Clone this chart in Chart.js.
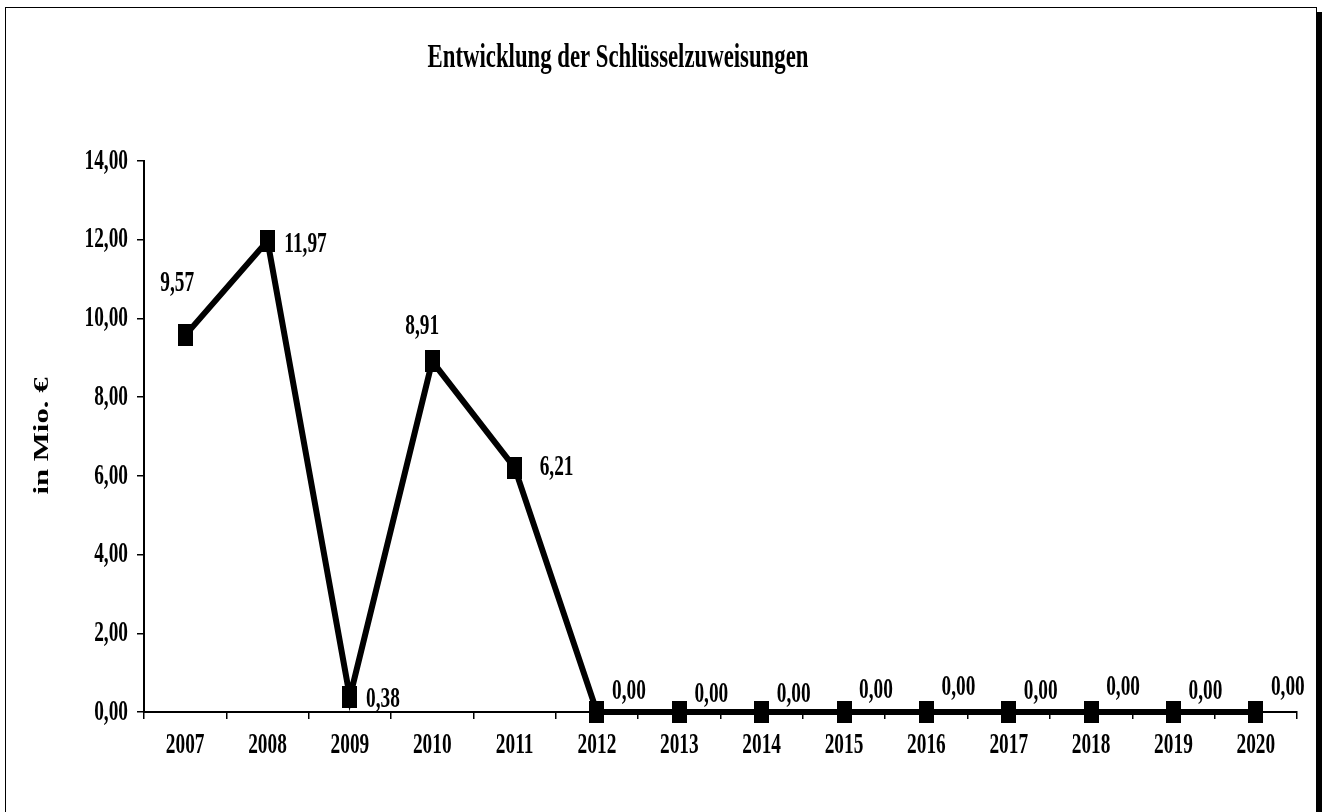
<!DOCTYPE html>
<html>
<head>
<meta charset="utf-8">
<script src="https://cdn.jsdelivr.net/npm/chart.js@4.4.1/dist/chart.umd.min.js"></script>
<style>
  html, body { margin: 0; padding: 0; background: #fff; }
  #frame { position: absolute; left: 5px; top: 7px; width: 1310px; height: 830px;
           border: 1.5px solid #000; box-shadow: 5px 5px 0 #000; background: #fff; }
  #chart { position: absolute; left: 0; top: 0; }
</style>
</head>
<body>
<div id="frame"></div>
<canvas id="chart" width="1328" height="812"></canvas>
<script>
// Daten
var years = ['2007', '2008', '2009', '2010', '2011', '2012', '2013', '2014', '2015', '2016', '2017', '2018', '2019', '2020'];
var zuweisungen = [9.57, 11.97, 0.38, 8.91, 6.21, 0.00, 0.00, 0.00, 0.00, 0.00, 0.00, 0.00, 0.00, 0.00];
var yTicks = [0, 2, 4, 6, 8, 10, 12, 14];

var titleText = 'Entwicklung der Schlüsselzuweisungen';
var yTitle = 'in Mio. €';

// Versatz der Wertbeschriftungen relativ zum Punkt
var labelOffsets = [
    [-8, -52], [38, 3], [33, 2], [-10, -35], [42, 0],
    [32, -21], [32, -18], [32, -18], [32, -22], [32, -25],
    [32, -21], [32, -25], [32, -21], [32, -25]
];

var FONT = 'bold 30px "Liberation Serif", "Times New Roman", serif';
var SQUEEZE = 0.645;

function fmt(v) {
    return v.toFixed(2).replace('.', ',');
}

function drawText(ctx, text, x, y, font, sx, align, rot) {
    ctx.save();
    ctx.font = font;
    ctx.fillStyle = '#000';
    ctx.translate(x, y);
    if (rot) ctx.rotate(rot);
    ctx.scale(sx, 1);
    ctx.textAlign = align;
    ctx.textBaseline = 'middle';
    ctx.fillText(text, 0, 0);
    ctx.restore();
}

// Marker: schwarzes Rechteck
var marker = document.createElement('canvas');
marker.width = 15;
marker.height = 22;
var mctx = marker.getContext('2d');
mctx.fillStyle = '#000';
mctx.fillRect(0, 0, 15, 22);

var textPlugin = {
    id: 'textPlugin',
    afterDraw: function (chart) {
        var ctx = chart.ctx;
        var xs = chart.scales.x;
        var ys = chart.scales.y;

        drawText(ctx, titleText, 618, 58, 'bold 33px "Liberation Serif", serif', 0.69, 'center');
        drawText(ctx, yTitle, 42, 436, 'bold 22px "Liberation Serif", serif', 1.4, 'center', -Math.PI / 2);

        yTicks.forEach(function (v) {
            drawText(ctx, fmt(v), ys.right - 16, ys.getPixelForValue(v), FONT, SQUEEZE, 'right');
        });

        years.forEach(function (y, i) {
            drawText(ctx, y, xs.getPixelForValue(i), xs.top + 33, FONT, SQUEEZE, 'center');
        });

        var meta = chart.getDatasetMeta(0);
        meta.data.forEach(function (pt, i) {
            var off = labelOffsets[i];
            drawText(ctx, fmt(zuweisungen[i]), pt.x + off[0], pt.y + off[1], FONT, SQUEEZE, 'center');
        });
    }
};

var ctx = document.getElementById('chart').getContext('2d');
var chart = new Chart(ctx, {
    type: 'line',
    data: {
        labels: years,
        datasets: [{
            data: zuweisungen,
            borderColor: '#000',
            borderWidth: 6,
            tension: 0,
            pointStyle: marker,
            pointRadius: 8,
            pointBackgroundColor: '#000',
            clip: false
        }]
    },
    options: {
        responsive: false,
        animation: false,
        layout: { padding: { left: 124, right: 31, top: 161, bottom: 80 } },
        plugins: {
            legend: { display: false },
            title: { display: false },
            tooltip: { enabled: false }
        },
        scales: {
            x: {
                offset: true,
                afterFit: function (s) { s.height = 20; },
                ticks: { display: false },
                grid: { offset: true, drawOnChartArea: false, drawTicks: true, tickLength: 7, color: '#000', lineWidth: 1.5 },
                border: { display: true, color: '#000', width: 2 }
            },
            y: {
                min: 0,
                max: 14,
                afterFit: function (s) { s.width = 20; },
                ticks: { display: false, stepSize: 2 },
                grid: { drawOnChartArea: false, drawTicks: true, tickLength: 7, color: '#000', lineWidth: 1.5 },
                border: { display: true, color: '#000', width: 2 }
            }
        }
    },
    plugins: [textPlugin]
});
</script>
</body>
</html>
